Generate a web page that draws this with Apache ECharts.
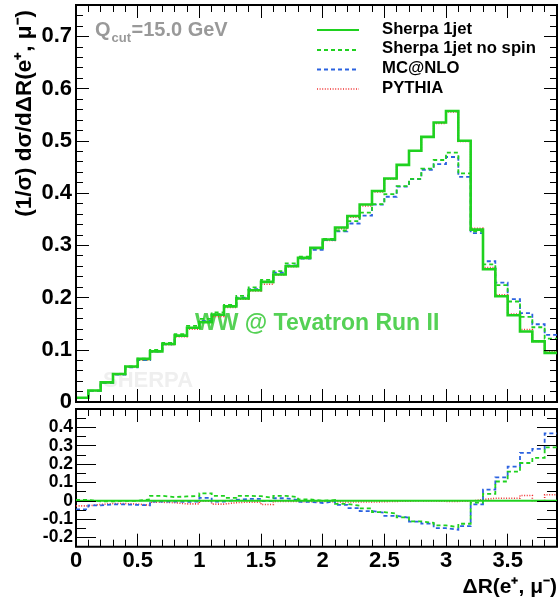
<!DOCTYPE html>
<html>
<head>
<meta charset="utf-8">
<script src="https://cdn.jsdelivr.net/npm/echarts@6/dist/echarts.min.js"></script>
<style>
  html, body { margin: 0; padding: 0; background: #fff; }
  #chart { width: 558px; height: 603px; }
</style>
</head>
<body>
<div id="chart"></div>
<script>
// Histogram bin edges in ΔR(e+, μ-), bin width 0.1
const binEdges = [0, 0.1, 0.2, 0.3, 0.4, 0.5, 0.6, 0.7, 0.8, 0.9,
  1.0, 1.1, 1.2, 1.3, 1.4, 1.5, 1.6, 1.7, 1.8, 1.9,
  2.0, 2.1, 2.2, 2.3, 2.4, 2.5, 2.6, 2.7, 2.8, 2.9,
  3.0, 3.1, 3.2, 3.3, 3.4, 3.5, 3.6, 3.7, 3.8, 3.9];

// Normalised distributions (1/σ) dσ/dΔR, one value per bin
const sherpa1jet = [0.008, 0.022, 0.0376, 0.0537, 0.068, 0.0825, 0.097, 0.111, 0.127, 0.142,
  0.153, 0.167, 0.183, 0.198, 0.214, 0.230, 0.244, 0.260, 0.276, 0.295,
  0.311, 0.334, 0.356, 0.378, 0.404, 0.428, 0.454, 0.481, 0.5075, 0.535,
  0.557, 0.500, 0.330, 0.254, 0.2025, 0.166, 0.135, 0.116, 0.094];

const sherpaNoSpin = [0.00804, 0.02193, 0.03749, 0.0537, 0.068, 0.08316, 0.09962, 0.11322, 0.13005, 0.14569,
  0.15927, 0.17151, 0.18593, 0.20335, 0.21935, 0.23368, 0.25059, 0.2652, 0.27821, 0.295,
  0.31224, 0.32832, 0.34639, 0.3625, 0.37895, 0.39804, 0.41314, 0.42713, 0.4466, 0.46331,
  0.47735, 0.4375, 0.3267, 0.26365, 0.22376, 0.19239, 0.16281, 0.14314, 0.12135];

const mcatnlo = [0.00763, 0.02145, 0.03685, 0.05263, 0.0665, 0.08044, 0.09652, 0.11056, 0.12624, 0.14143,
  0.15545, 0.16633, 0.18392, 0.19998, 0.21614, 0.22954, 0.24742, 0.2613, 0.27434, 0.29146,
  0.31007, 0.32665, 0.34176, 0.35683, 0.37774, 0.3929, 0.41223, 0.42665, 0.44457, 0.45529,
  0.46899, 0.431, 0.3234, 0.26949, 0.22842, 0.19688, 0.17024, 0.14883, 0.1285];

const pythia = [0.00778, 0.02156, 0.03704, 0.05289, 0.06678, 0.08052, 0.09622, 0.10989, 0.12484, 0.13959,
  0.15269, 0.16399, 0.18117, 0.19661, 0.2125, 0.2254, 0.24302, 0.25896, 0.27462, 0.29382,
  0.30945, 0.33166, 0.35386, 0.37535, 0.40198, 0.42672, 0.45309, 0.481, 0.50699, 0.5334,
  0.55533, 0.499, 0.33231, 0.25756, 0.20534, 0.16832, 0.13892, 0.116, 0.0971];

// Tick labels
const xTickLabels = ['0', '0.5', '1', '1.5', '2', '2.5', '3', '3.5'];
const mainYTickLabels = ['0', '0.1', '0.2', '0.3', '0.4', '0.5', '0.6', '0.7'];
const ratioYTickLabels = ['-0.2', '-0.1', '0', '0.1', '0.2', '0.3', '0.4'];

const FONT = '"Liberation Sans", Arial, Helvetica, sans-serif';
const GREEN = '#1fd11f';
const BLUE = '#2b62e0';
const RED = '#f03030';

const models = [
  { name: 'PYTHIA', values: pythia, color: RED, width: 1.6, type: [1, 1.6] },
  { name: 'MC@NLO', values: mcatnlo, color: BLUE, width: 1.8, type: [4, 3] },
  { name: 'Sherpa 1jet no spin', values: sherpaNoSpin, color: GREEN, width: 1.8, type: [4, 3] },
  { name: 'Sherpa 1jet', values: sherpa1jet, color: GREEN, width: 2.6, type: 'solid' }
];

// Histogram outline: one point at each lower bin edge plus the final upper edge
function stepData(vals) {
  const d = vals.map((v, i) => [binEdges[i], v]);
  d.push([binEdges[vals.length], vals[vals.length - 1]]);
  return d;
}
function ratioTo(vals, ref) {
  return vals.map((v, i) => v / ref[i] - 1);
}

// Tick-only category axes (major ticks carry labels)
function tickAxis(gridIndex, position, min, step, count, labels, major, len, labelStyle) {
  const cats = [];
  for (let i = 0; i < count; i++) cats.push(String(+(min + i * step).toFixed(3)));
  const findLabel = (v) => labels.find(l => Math.abs(parseFloat(l) - parseFloat(v)) < 1e-6);
  const isMajor = (idx, v) => findLabel(v) !== undefined;
  return {
    type: 'category',
    gridIndex: gridIndex,
    position: position,
    data: cats,
    boundaryGap: false,
    axisLine: { show: false, onZero: false },
    splitLine: { show: false },
    axisTick: {
      show: true, inside: true, length: len,
      interval: major ? isMajor : 0,
      lineStyle: { color: '#000', width: 1 }
    },
    axisLabel: labelStyle ? Object.assign({
      interval: isMajor,
      formatter: (v) => findLabel(v) || '',
      color: '#000',
      fontFamily: FONT,
      fontWeight: 'bold'
    }, labelStyle) : { show: false },
    z: 5
  };
}

function valueAxis(gridIndex, min, max) {
  return { type: 'value', gridIndex: gridIndex, min: min, max: max, show: false,
           axisLine: { onZero: false }, splitLine: { show: false } };
}

const xAxes = [
  valueAxis(0, 0, 3.9),
  tickAxis(0, 'bottom', 0, 0.1, 40, xTickLabels, true, 13, null),
  tickAxis(0, 'bottom', 0, 0.1, 40, xTickLabels, false, 7, null),
  tickAxis(0, 'top', 0, 0.1, 40, xTickLabels, true, 13, null),
  tickAxis(0, 'top', 0, 0.1, 40, xTickLabels, false, 7, null),
  valueAxis(1, 0, 3.9),
  tickAxis(1, 'bottom', 0, 0.1, 40, xTickLabels, true, 13, { fontSize: 22, margin: 3 }),
  tickAxis(1, 'bottom', 0, 0.1, 40, xTickLabels, false, 7, null),
  tickAxis(1, 'top', 0, 0.1, 40, xTickLabels, true, 13, null),
  tickAxis(1, 'top', 0, 0.1, 40, xTickLabels, false, 7, null)
];

const yAxes = [
  valueAxis(0, 0, 0.76),
  tickAxis(0, 'left', 0, 0.02, 39, mainYTickLabels, true, 13, { fontSize: 22, margin: 4 }),
  tickAxis(0, 'left', 0, 0.02, 39, mainYTickLabels, false, 7, null),
  tickAxis(0, 'right', 0, 0.02, 39, mainYTickLabels, true, 13, null),
  tickAxis(0, 'right', 0, 0.02, 39, mainYTickLabels, false, 7, null),
  valueAxis(1, -0.25, 0.5),
  tickAxis(1, 'left', -0.25, 0.05, 16, ratioYTickLabels, true, 20, { fontSize: 17.5, margin: 3 }),
  tickAxis(1, 'left', -0.25, 0.05, 16, ratioYTickLabels, false, 10, null),
  tickAxis(1, 'right', -0.25, 0.05, 16, ratioYTickLabels, true, 20, null),
  tickAxis(1, 'right', -0.25, 0.05, 16, ratioYTickLabels, false, 10, null)
];

const series = [];
models.forEach(m => {
  const ls = { color: m.color, width: m.width, type: m.type, cap: 'butt', join: 'miter' };
  series.push({
    name: m.name, type: 'line', xAxisIndex: 0, yAxisIndex: 0,
    data: stepData(m.values), step: 'end', symbol: 'none', showSymbol: false,
    lineStyle: ls, z: 3, silent: true, animation: false
  });
  series.push({
    name: m.name, type: 'line', xAxisIndex: 5, yAxisIndex: 5,
    data: stepData(ratioTo(m.values, sherpa1jet)), step: 'end', symbol: 'none', showSymbol: false,
    lineStyle: Object.assign({}, ls, { width: Math.min(m.width, 2) }), z: 3, silent: true, animation: false
  });
});

// Legend, drawn top to bottom in the order below
const legendOrder = ['Sherpa 1jet', 'Sherpa 1jet no spin', 'MC@NLO', 'PYTHIA'];
const legendLineY = [30, 50, 69.5, 89];
const legendTextY = [29, 48.8, 68.6, 88.3];
const graphics = [];
legendOrder.forEach((name, k) => {
  const m = models.find(mm => mm.name === name);
  graphics.push({
    type: 'line', shape: { x1: 317, y1: legendLineY[k], x2: 359, y2: legendLineY[k] },
    style: { stroke: m.color, lineWidth: Math.min(m.width, 2), lineDash: m.type === 'solid' ? null : m.type }
  });
  graphics.push({
    type: 'text', x: 382, y: legendTextY[k],
    style: { text: name, fill: '#000', font: 'bold 16.7px ' + FONT, align: 'left', verticalAlign: 'middle' }
  });
});

// Annotations
graphics.push(
  { type: 'text', x: 103, y: 381, z: 0,
    style: { text: 'SHERPA', fill: '#efefef', font: 'bold 22px ' + FONT, align: 'left', verticalAlign: 'middle' } },
  { type: 'text', x: 195, y: 323.7, z: 0,
    style: { text: 'WW @ Tevatron Run II', fill: '#55d155', font: 'bold 23px ' + FONT, align: 'left', verticalAlign: 'middle' } },
  { type: 'text', x: 95, y: 30,
    style: { text: 'Q', fill: '#999999', font: 'bold 20px ' + FONT, align: 'left', verticalAlign: 'middle' } },
  { type: 'text', x: 111.5, y: 38.7,
    style: { text: 'cut', fill: '#999999', font: 'bold 13px ' + FONT, align: 'left', verticalAlign: 'middle' } },
  { type: 'text', x: 131.5, y: 30,
    style: { text: '=15.0 GeV', fill: '#999999', font: 'bold 20px ' + FONT, align: 'left', verticalAlign: 'middle' } },
  { type: 'text', x: 24.5, y: 10, rotation: Math.PI / 2,
    style: { text: '(1/σ) dσ/dΔR(e⁺, μ⁻)', fill: '#000', font: 'bold 22.5px ' + FONT, align: 'right', verticalAlign: 'middle' } },
  { type: 'text', x: 557, y: 587,
    style: { text: 'ΔR(e⁺, μ⁻)', fill: '#000', font: 'bold 21px ' + FONT, align: 'right', verticalAlign: 'middle' } }
);

const chart = echarts.init(document.getElementById('chart'), null, { renderer: 'canvas' });
chart.setOption({
  animation: false,
  backgroundColor: '#fff',
  grid: [
    { left: 76, top: 5, width: 481, height: 397, show: true, borderColor: '#000', borderWidth: 2, backgroundColor: 'transparent', containLabel: false },
    { left: 76, top: 409, width: 481, height: 137.7, show: true, borderColor: '#000', borderWidth: 2, backgroundColor: 'transparent', containLabel: false }
  ],
  xAxis: xAxes,
  yAxis: yAxes,
  series: series,
  graphic: graphics
});
</script>
</body>
</html>
